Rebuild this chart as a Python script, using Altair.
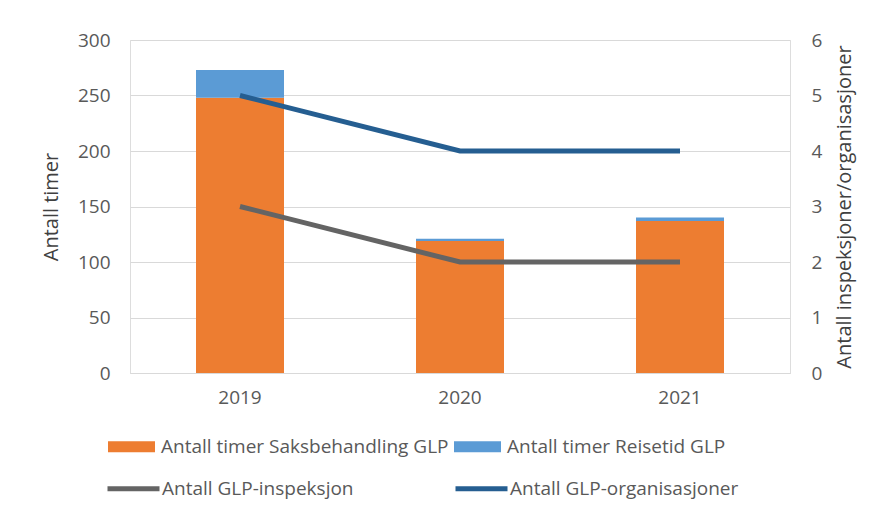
import altair as alt
import pandas as pd

years = ["2019", "2020", "2021"]
saksbehandling = [248, 119, 137]
reisetid = [25, 2, 3]
inspeksjon = [3, 2, 2]
organisasjoner = [5, 4, 4]

bar_series = ["Antall timer Saksbehandling GLP", "Antall timer Reisetid GLP"]
line_series = ["Antall GLP-inspeksjon", "Antall GLP-organisasjoner"]

bars_df = pd.DataFrame(
    [{"year": y, "series": bar_series[0], "value": v, "ord": 0} for y, v in zip(years, saksbehandling)]
    + [{"year": y, "series": bar_series[1], "value": v, "ord": 1} for y, v in zip(years, reisetid)]
)
lines_df = pd.DataFrame(
    [{"year": y, "series": line_series[0], "count": v} for y, v in zip(years, inspeksjon)]
    + [{"year": y, "series": line_series[1], "count": v} for y, v in zip(years, organisasjoner)]
)

FONT = "Open Sans"
LBL = "#595959"
FS = 19

x_enc = alt.X(
    "year:N",
    title=None,
    sort=years,
    scale=alt.Scale(paddingInner=0.6, paddingOuter=0.3),
    axis=alt.Axis(labelAngle=0, labelFontSize=FS, labelColor=LBL, ticks=False,
                  domainColor="#D9D9D9", domainWidth=1, labelPadding=15, labelFont=FONT),
)

bars = alt.Chart(bars_df).mark_bar().encode(
    x=x_enc,
    y=alt.Y(
        "value:Q",
        stack="zero",
        scale=alt.Scale(domain=[0, 300], nice=False),
        axis=alt.Axis(title="Antall timer", values=[0, 50, 100, 150, 200, 250, 300],
                      labelFontSize=FS, labelColor=LBL, labelFont=FONT, ticks=False, domain=False,
                      gridColor="#D9D9D9", labelPadding=20,
                      titleFontSize=20, titleFont=FONT, titleFontWeight="normal", titleColor="#404040",
                      titlePadding=16),
    ),
    color=alt.Color(
        "series:N",
        scale=alt.Scale(domain=bar_series, range=["#ED7D31", "#5B9BD5"]),
        legend=alt.Legend(
            orient="none", legendX=-22, legendY=383, direction="horizontal", columns=2,
            title=None, symbolType="M-1,-0.23H1V0.23H-1Z", symbolSize=2209,
            symbolStrokeWidth=0, symbolOpacity=1,
            labelFontSize=FS, labelFont=FONT, labelColor=LBL, labelOffset=6,
            columnPadding=5, labelLimit=400,
        ),
    ),
    order=alt.Order("ord:Q"),
)

lines = alt.Chart(lines_df).mark_line(strokeWidth=5).encode(
    x=alt.X("year:N", sort=years),
    y=alt.Y(
        "count:Q",
        scale=alt.Scale(domain=[0, 6], nice=False),
        axis=alt.Axis(title="Antall inspeksjoner/organisasjoner", orient="right",
                      values=[0, 1, 2, 3, 4, 5, 6], grid=False,
                      labelFontSize=FS, labelColor=LBL, labelFont=FONT, ticks=False, domain=False,
                      labelPadding=21, titleAngle=270,
                      titleFontSize=20, titleFont=FONT, titleFontWeight="normal", titleColor="#404040",
                      titlePadding=33),
    ),
    stroke=alt.Stroke(
        "series:N",
        scale=alt.Scale(domain=line_series, range=["#646464", "#255E91"]),
        legend=alt.Legend(
            orient="none", legendX=-25, legendY=420, direction="horizontal", columns=2,
            title=None, symbolType="stroke", symbolSize=2704, symbolStrokeWidth=5,
            labelFontSize=FS, labelFont=FONT, labelColor=LBL, labelOffset=0,
            columnPadding=91, labelLimit=400,
        ),
    ),
)

chart = alt.layer(bars, lines).resolve_scale(y="independent", color="independent").properties(
    width=660,
    height=333,
    autosize=alt.AutoSizeParams(type="none"),
    padding={"left": 122, "top": 32, "right": 71, "bottom": 128},
).configure_view(stroke=None).configure(background="white")

chart.save("out.html", embed_options={"renderer": "svg", "actions": False})
